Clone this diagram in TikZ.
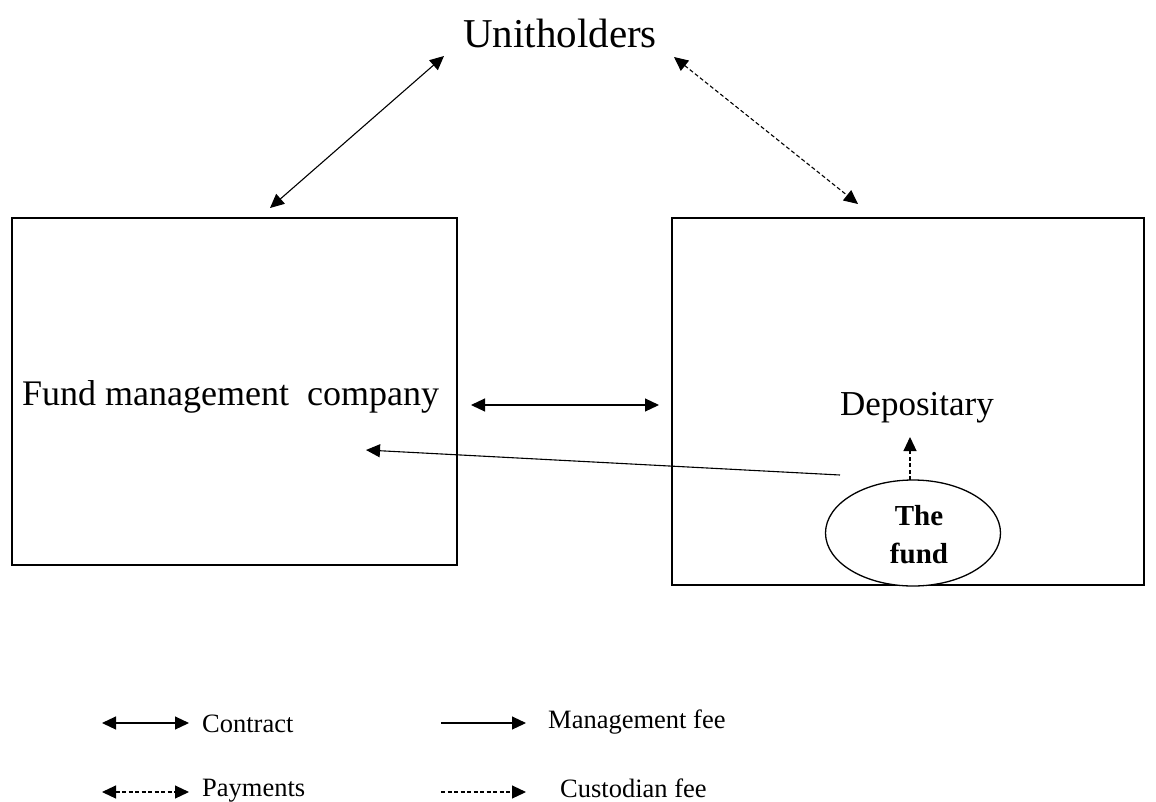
\documentclass[tikz,border=0pt]{standalone}
\usepackage{fontspec}
\setmainfont{Liberation Serif}
\usetikzlibrary{arrows.meta,shapes.geometric}
\begin{document}
\begin{tikzpicture}[x=1pt,y=-1pt,
  conn/.style={line width=1.1pt,{Triangle[length=14pt,width=13pt]}-{Triangle[length=14pt,width=13pt]}},
  pay/.style={conn,dash pattern=on 4pt off 2.5pt},
  mfee/.style={line width=1.1pt,-{Triangle[length=14pt,width=13pt]}},
  cfee/.style={mfee,dash pattern=on 4pt off 2.5pt},
  box/.style={draw,line width=1.6pt,inner sep=0pt},
  leg/.style={font=\fontsize{26.5}{30}\selectfont,anchor=base west,inner sep=0pt}]
\useasboundingbox (0,0) rectangle (1156,801);
\fill[white] (0,0) rectangle (1156,801);
% nodes
\node[font=\fontsize{41}{46}\selectfont,anchor=base west,inner sep=0pt] (uh) at (463,47) {Unitholders};
\node[box,minimum width=445pt,minimum height=347pt] (fmc) at (234.5,391.5) {};
\node[font=\fontsize{36}{42}\selectfont,anchor=base west,inner sep=0pt] (fmctext) at (22,405) {Fund management\ \ company};
\node[box,minimum width=472pt,minimum height=367pt] (dep) at (908,401.5) {};
\node[font=\fontsize{35}{40}\selectfont,anchor=base,inner sep=0pt] (deptext) at (917,415) {Depositary};
\node[draw,ellipse,line width=1.3pt,minimum width=175pt,minimum height=106pt,inner sep=0pt,fill=white] (fund) at (913,533) {};
\node[font=\bfseries\fontsize{29}{38}\selectfont,align=center,inner sep=0pt] (fundtext) at (919,535) {The\\fund};
% connector ends
\coordinate (a1) at (270,208);
\coordinate (a2) at (444,56);
\coordinate (b1) at (674,57);
\coordinate (b2) at (858,204);
\coordinate (c1) at (471,405);
\coordinate (c2) at (659,405);
\coordinate (d1) at (910,480);
\coordinate (d2) at (910,437);
\coordinate (e1) at (840,475);
\coordinate (e2) at (366,450);
\draw[conn] (a1) -- (a2);
\draw[pay] (b1) -- (b2);
\draw[conn] (c1) -- (c2);
\draw[cfee] (d1) -- (d2);
\draw[mfee] (e1) -- (e2);
% legend
\coordinate (l1a) at (102,723); \coordinate (l1b) at (189,723);
\coordinate (l2a) at (102,792); \coordinate (l2b) at (189,792);
\coordinate (l3a) at (441,723); \coordinate (l3b) at (526,723);
\coordinate (l4a) at (441,792); \coordinate (l4b) at (526,792);
\draw[conn] (l1a) -- (l1b);
\draw[pay] (l2a) -- (l2b);
\draw[mfee] (l3a) -- (l3b);
\draw[cfee] (l4a) -- (l4b);
\node[leg] (lc) at (202,732) {Contract};
\node[leg] (lp) at (202,796) {Payments};
\node[leg] (lm) at (548,728) {Management fee};
\node[leg] (lcu) at (560,797) {Custodian fee};
\end{tikzpicture}
\end{document}
